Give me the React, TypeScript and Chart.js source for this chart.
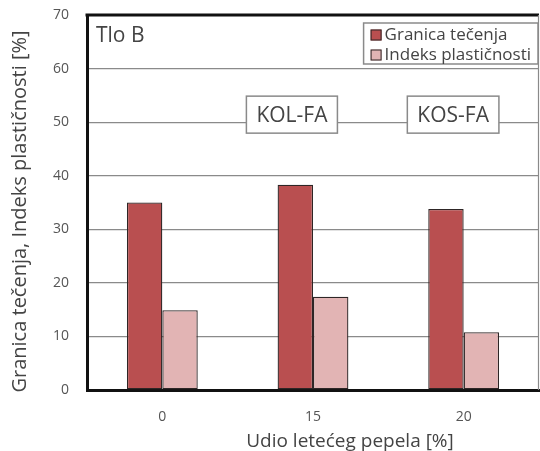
import React, { useEffect, useRef } from "react";
import { Chart, registerables } from "chart.js";

Chart.register(...registerables);

const categories = ["0", "15", "20"];
const granicaTecenja = [35, 38.3, 33.8];
const indeksPlasticnosti = [14.9, 17.4, 10.8];
const seriesLabels = ["Granica tečenja", "Indeks plastičnosti"];
const seriesColors = ["#b94f50", "#e2b4b4"];
const yMin = 0;
const yMax = 70;
const yStep = 10;
const annotationTexts = ["KOL-FA", "KOS-FA"];
const annotationX = [0.86, 1.93];
const annotationY = [51.4, 51.4];
const panelLabel = "Tlo B";
const xTitle = "Udio letećeg pepela [%]";
const yTitle = "Granica tečenja, Indeks plastičnosti [%]";

const FONT = "'Open Sans', 'Noto Sans', sans-serif";
const TEXT = "#444";

const decorPlugin = {
  id: "decor",
  afterDraw(chart: any) {
    const { ctx, chartArea } = chart;
    const xs = chart.scales.x;
    const ys = chart.scales.y;
    ctx.save();
    // top border
    ctx.strokeStyle = "#111";
    ctx.lineWidth = 3;
    ctx.beginPath();
    ctx.moveTo(chartArea.left - 1.5, chartArea.top);
    ctx.lineTo(chartArea.right, chartArea.top);
    ctx.stroke();
    // right border
    ctx.strokeStyle = "#8a8a8a";
    ctx.lineWidth = 1.2;
    ctx.beginPath();
    ctx.moveTo(chartArea.right - 0.5, chartArea.top);
    ctx.lineTo(chartArea.right - 0.5, chartArea.bottom);
    ctx.stroke();

    // axis titles
    ctx.fillStyle = TEXT;
    ctx.textAlign = "center";
    ctx.textBaseline = "middle";
    ctx.font = `19px ${FONT}`;
    ctx.fillText(xTitle, (chartArea.left + chartArea.right) / 2 + 37, chartArea.bottom + 52);
    ctx.save();
    ctx.translate(20, (chartArea.top + chartArea.bottom) / 2 + 9);
    ctx.rotate(-Math.PI / 2);
    ctx.font = `20px ${FONT}`;
    ctx.fillText(yTitle, 0, 0);
    ctx.restore();

    // panel label
    ctx.fillStyle = TEXT;
    ctx.font = `21px ${FONT}`;
    ctx.textAlign = "left";
    ctx.textBaseline = "middle";
    ctx.fillText(panelLabel, chartArea.left + 9, chartArea.top + 21);

    // annotation boxes
    ctx.font = `21px ${FONT}`;
    annotationTexts.forEach((t, i) => {
      const cx = xs.getPixelForValue(annotationX[i]);
      const cy = ys.getPixelForValue(annotationY[i]);
      const w = ctx.measureText(t).width + 20;
      const h = 37;
      ctx.fillStyle = "#fff";
      ctx.fillRect(cx - w / 2, cy - h / 2, w, h);
      ctx.strokeStyle = "#8a8a8a";
      ctx.lineWidth = 1.5;
      ctx.strokeRect(cx - w / 2, cy - h / 2, w, h);
      ctx.fillStyle = TEXT;
      ctx.textAlign = "center";
      ctx.fillText(t, cx, cy + 1);
    });

    // legend
    ctx.font = `17px ${FONT}`;
    ctx.textAlign = "left";
    const maxW = Math.max(...seriesLabels.map((l) => ctx.measureText(l).width));
    const padL = 7, marker = 11, gap = 3, padR = 7;
    const boxW = padL + marker + gap + maxW + padR;
    const boxR = chartArea.right - 1;
    const boxL = boxR - boxW;
    const boxT = chartArea.top + 8;
    const rowH = 20;
    const boxH = 41;
    ctx.fillStyle = "#fff";
    ctx.fillRect(boxL, boxT, boxW, boxH);
    ctx.strokeStyle = "#8a8a8a";
    ctx.lineWidth = 1.5;
    ctx.strokeRect(boxL, boxT, boxW, boxH);
    seriesLabels.forEach((l, i) => {
      const cy = boxT + 12 + i * rowH;
      ctx.fillStyle = seriesColors[i];
      ctx.fillRect(boxL + padL, cy - marker / 2, marker, marker);
      ctx.strokeStyle = "#2e2626";
      ctx.lineWidth = 1;
      ctx.strokeRect(boxL + padL + 0.5, cy - marker / 2 + 0.5, marker - 1, marker - 1);
      ctx.fillStyle = TEXT;
      ctx.fillText(l, boxL + padL + marker + gap, cy);
    });
    ctx.restore();
  },
};

export default function App() {
  const ref = useRef<HTMLCanvasElement>(null);
  useEffect(() => {
    if (!ref.current) return;
    const chart = new Chart(ref.current, {
      type: "bar",
      data: {
        labels: categories,
        datasets: [
          {
            label: seriesLabels[0],
            data: granicaTecenja,
            backgroundColor: seriesColors[0],
            borderColor: "#2e2626",
            borderWidth: 1.3,
            borderSkipped: false,
            barPercentage: 1,
            categoryPercentage: 0.47,
          },
          {
            label: seriesLabels[1],
            data: indeksPlasticnosti,
            backgroundColor: seriesColors[1],
            borderColor: "#2e2626",
            borderWidth: 1.3,
            borderSkipped: false,
            barPercentage: 1,
            categoryPercentage: 0.47,
          },
        ],
      },
      options: {
        animation: false,
        responsive: false,
        maintainAspectRatio: false,
        layout: { padding: { top: 15, right: 1, left: 0, bottom: 0 } },
        plugins: { legend: { display: false }, tooltip: { enabled: false } },
        scales: {
          x: {
            grid: { display: false, drawTicks: false },
            border: { color: "#111", width: 3 },
            ticks: { color: "#555", padding: 19, font: { size: 14, family: FONT } },
            afterFit: (s: any) => {
              s.height = 61;
              s.paddingLeft = 0;
              s.paddingRight = 0;
            },
          },
          y: {
            min: yMin,
            max: yMax,
            ticks: { stepSize: yStep, color: "#555", padding: 18, font: { size: 14, family: FONT } },
            grid: {
              drawTicks: false,
              lineWidth: 1.2,
              color: (c: any) =>
                c.tick && (c.tick.value === yMin || c.tick.value === yMax) ? "rgba(0,0,0,0)" : "#8a8a8a",
            },
            border: { color: "#111", width: 3 },
            afterFit: (s: any) => {
              s.width = 87;
              s.paddingTop = 0;
              s.paddingBottom = 0;
            },
          },
        },
      },
      plugins: [decorPlugin],
    });
    return () => chart.destroy();
  }, []);
  return (
    <div style={{ position: "absolute", left: 0, top: 0, width: 540, height: 451, background: "#fff" }}>
      <canvas ref={ref} width={540} height={451} style={{ display: "block" }} />
    </div>
  );
}
